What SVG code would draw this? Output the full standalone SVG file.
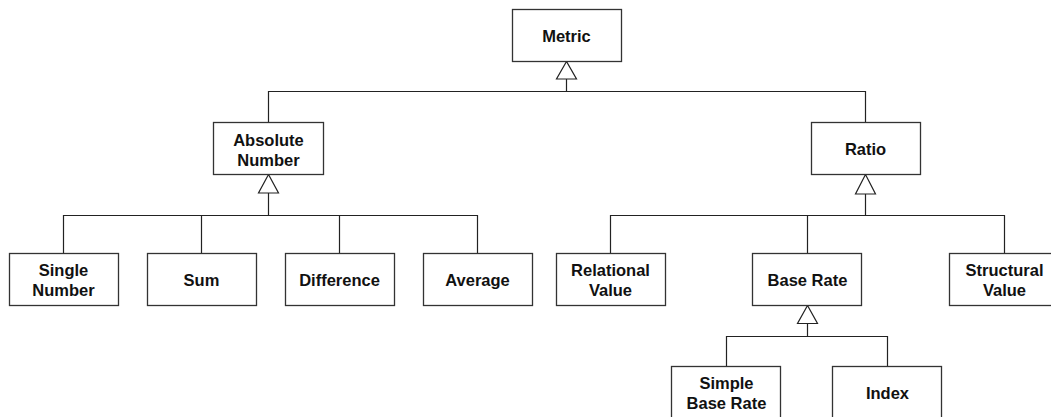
<svg xmlns="http://www.w3.org/2000/svg" width="1051" height="417" viewBox="0 0 1051 417">
  <style>
    .box { fill: #fff; stroke: #333; stroke-width: 1.3; }
    .lbl { font-family: "Liberation Sans", Arial, sans-serif; font-weight: bold; font-size: 16.5px; fill: #111; text-anchor: middle; }
    .wire { fill: none; stroke: #222; stroke-width: 1.2; }
    .gen { fill: #fff; stroke: #222; stroke-width: 1.2; }
  </style>
  <rect width="1051" height="417" fill="#fff"/>

  <!-- generalization connectors -->
  <g id="connectors">
    <!-- Metric <- Absolute Number, Ratio -->
    <path class="wire" d="M566.5 79 V91.5 M268.5 122 V91.5 H865.5 V122"/>
    <polygon class="gen" points="566.5,61.5 556.5,79 576.5,79"/>
    <!-- Absolute Number <- four leaves -->
    <path class="wire" d="M268.5 193 V215.5 M63.5 253 V215.5 H477.5 V253 M201.5 215.5 V253 M339.5 215.5 V253"/>
    <polygon class="gen" points="268.5,174.5 258.5,193 278.5,193"/>
    <!-- Ratio <- Relational Value, Base Rate, Structural Value -->
    <path class="wire" d="M865.5 194 V215.5 M610.5 253 V215.5 H1004.5 V253 M807.5 215.5 V253"/>
    <polygon class="gen" points="865.5,174.5 855.5,194 875.5,194"/>
    <!-- Base Rate <- Simple Base Rate, Index -->
    <path class="wire" d="M807.5 323.5 V336.5 M726.5 366 V336.5 H887.5 V366"/>
    <polygon class="gen" points="807.5,305.5 797.5,323.5 817.5,323.5"/>
  </g>

  <g id="metric">
    <rect class="box" x="512.5" y="9.5" width="109" height="52"/>
    <text class="lbl" x="566.5" y="41.5">Metric</text>
  </g>
  <g id="absolute-number">
    <rect class="box" x="213.5" y="122.5" width="110" height="52"/>
    <text class="lbl" x="268.5" y="145.5">Absolute</text>
    <text class="lbl" x="268.5" y="165.5">Number</text>
  </g>
  <g id="ratio">
    <rect class="box" x="811.5" y="122.5" width="109" height="52"/>
    <text class="lbl" x="865.5" y="154.5">Ratio</text>
  </g>
  <g id="single-number">
    <rect class="box" x="9.5" y="253.5" width="109" height="52"/>
    <text class="lbl" x="63.5" y="276">Single</text>
    <text class="lbl" x="63.5" y="296">Number</text>
  </g>
  <g id="sum">
    <rect class="box" x="147.5" y="253.5" width="109" height="52"/>
    <text class="lbl" x="201.5" y="286">Sum</text>
  </g>
  <g id="difference">
    <rect class="box" x="285.5" y="253.5" width="109" height="52"/>
    <text class="lbl" x="339.5" y="286">Difference</text>
  </g>
  <g id="average">
    <rect class="box" x="423.5" y="253.5" width="109" height="52"/>
    <text class="lbl" x="477.5" y="286">Average</text>
  </g>
  <g id="relational-value">
    <rect class="box" x="556.5" y="253.5" width="109" height="52"/>
    <text class="lbl" x="610.5" y="276">Relational</text>
    <text class="lbl" x="610.5" y="296">Value</text>
  </g>
  <g id="base-rate">
    <rect class="box" x="752.5" y="253.5" width="109" height="52"/>
    <text class="lbl" x="807.5" y="286">Base Rate</text>
  </g>
  <g id="structural-value">
    <rect class="box" x="949.5" y="253.5" width="110" height="52"/>
    <text class="lbl" x="1004.5" y="276">Structural</text>
    <text class="lbl" x="1004.5" y="296">Value</text>
  </g>
  <g id="simple-base-rate">
    <rect class="box" x="671.5" y="366.5" width="109" height="52"/>
    <text class="lbl" x="726.5" y="388.5">Simple</text>
    <text class="lbl" x="726.5" y="408.5">Base Rate</text>
  </g>
  <g id="index">
    <rect class="box" x="832.5" y="366.5" width="109" height="52"/>
    <text class="lbl" x="887.5" y="398.5">Index</text>
  </g>
</svg>
